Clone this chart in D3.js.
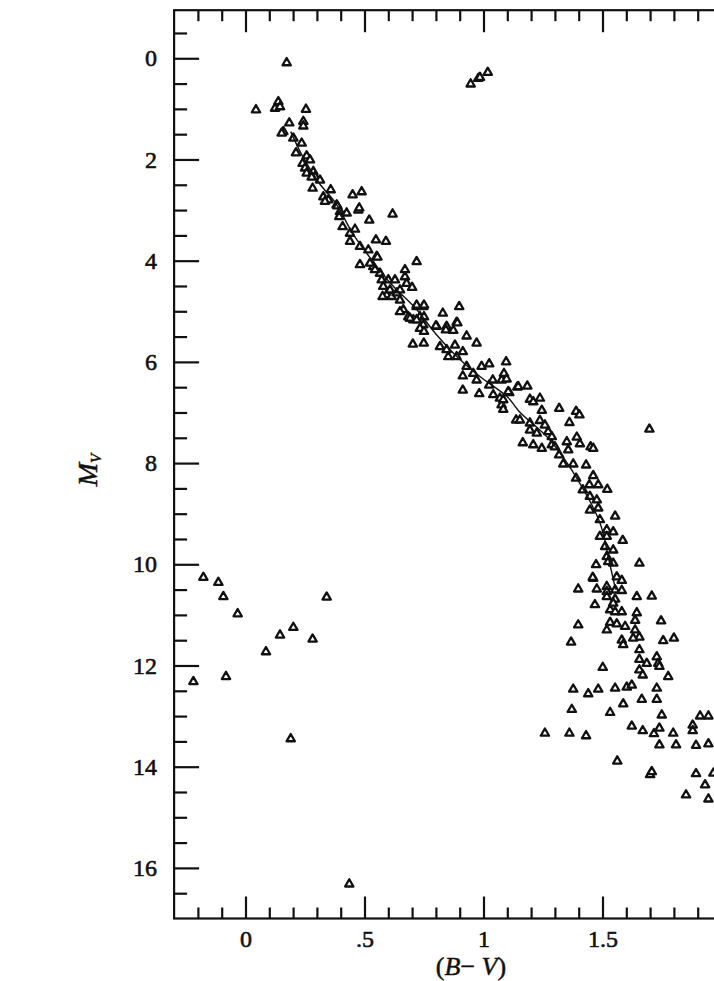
<!DOCTYPE html>
<html>
<head>
<meta charset="utf-8">
<script src="https://cdn.jsdelivr.net/npm/d3@7"></script>
<style>
  body { margin: 0; background: #fff; }
  svg { display: block; }
  .tick text { font-family: "Liberation Serif", "DejaVu Serif", serif; font-size: 24px; fill: #111; stroke: #111; stroke-width: 0.6px; }
</style>
</head>
<body>
<svg id="chart"></svg>
<script>
// colour-magnitude diagram, (B-V) vs M_V

// ticks
var xMajor = [0, 0.5, 1, 1.5];
var xTickLabels = ["0", ".5", "1", "1.5"];
var xMinor = [-0.2, -0.1, 0.1, 0.2, 0.3, 0.4, 0.6, 0.7, 0.8, 0.9, 1.1, 1.2, 1.3, 1.4, 1.6, 1.7, 1.8, 1.9];
var yMajor = [0, 2, 4, 6, 8, 10, 12, 14, 16];
var yTickLabels = ["0", "2", "4", "6", "8", "10", "12", "14", "16"];
var yMinor = [-0.5, 0.5, 1, 1.5, 2.5, 3, 3.5, 4.5, 5, 5.5, 6.5, 7, 7.5, 8.5, 9, 9.5,
              10.5, 11, 11.5, 12.5, 13, 13.5, 14.5, 15, 15.5, 16.5];

// stars [B-V, M_V]
var giants = [[0.946, 0.51], [0.978, 0.40], [0.985, 0.38], [1.018, 0.28]];

var whiteDwarfs = [[-0.177, 10.26], [-0.114, 10.36], [-0.093, 10.64], [-0.033, 10.98], [0.341, 10.65],
  [0.201, 11.25], [0.145, 11.40], [0.282, 11.48], [0.086, 11.73], [-0.082, 12.22], [-0.219, 12.32],
  [0.190, 13.45], [0.436, 16.32]];

var mainSeq = [
  [0.173, 0.09], [0.044, 1.02], [0.124, 0.99], [0.138, 0.86], [0.145, 0.96], [0.254, 1.01],
  [0.184, 1.28], [0.243, 1.25], [0.243, 1.34], [0.159, 1.45], [0.152, 1.48],
  [0.201, 1.58], [0.236, 1.68], [0.212, 1.87], [0.257, 1.93], [0.240, 2.08], [0.271, 2.01],
  [0.250, 2.17], [0.257, 2.27], [0.285, 2.24], [0.292, 2.34], [0.278, 2.35], [0.313, 2.41],
  [0.282, 2.57], [0.358, 2.60], [0.450, 2.70], [0.488, 2.64],
  [0.327, 2.74], [0.348, 2.80], [0.383, 2.90], [0.386, 2.92], [0.397, 3.03], [0.425, 3.06], [0.474, 3.00], [0.478, 2.96],
  [0.520, 3.20], [0.618, 3.08], [0.334, 2.83], [0.394, 3.13],
  [0.408, 3.33], [0.439, 3.46], [0.460, 3.38], [0.439, 3.62], [0.548, 3.59], [0.590, 3.62],
  [0.481, 3.72], [0.516, 3.79], [0.551, 3.92], [0.481, 4.08], [0.537, 4.12], [0.719, 4.02],
  [0.565, 4.25], [0.600, 4.38], [0.628, 4.38], [0.670, 4.18], [0.670, 4.32], [0.677, 4.45], [0.700, 4.53],
  [0.593, 4.68], [0.614, 4.71], [0.635, 4.64], [0.649, 4.58], [0.649, 4.78], [0.663, 4.97],
  [0.719, 4.91], [0.747, 4.91], [0.829, 5.04], [0.898, 4.91], [0.684, 5.11], [0.705, 5.17], [0.733, 5.11],
  [0.747, 5.27], [0.803, 5.30], [0.845, 5.30], [0.887, 5.22],
  [0.554, 3.93], [0.523, 4.05], [0.544, 4.18], [0.572, 4.38], [0.579, 4.51], [0.607, 4.58], [0.576, 4.71],
  [0.649, 5.01], [0.719, 4.88], [0.750, 4.88], [0.691, 5.14], [0.719, 5.17], [0.750, 5.11],
  [0.733, 5.34], [0.750, 5.40], [0.703, 5.65], [0.749, 5.63],
  [0.800, 5.29], [0.842, 5.37], [0.873, 5.38], [0.890, 5.23], [0.929, 5.49], [0.971, 5.63],
  [0.817, 5.70], [0.845, 5.76], [0.880, 5.67], [0.852, 5.90], [0.887, 5.90], [0.913, 5.80],
  [0.929, 6.09], [0.992, 6.09], [1.024, 6.04], [1.095, 6.00],
  [0.913, 6.28], [0.957, 6.23], [0.971, 6.36], [0.913, 6.56], [0.982, 6.63],
  [1.024, 6.46], [1.039, 6.36], [1.076, 6.36], [1.086, 6.23], [1.097, 6.34],
  [1.041, 6.65], [1.069, 6.72], [1.108, 6.61], [1.142, 6.50], [1.076, 6.85], [1.083, 6.94], [1.137, 7.15],
  [1.146, 6.49], [1.184, 6.48], [1.104, 6.59], [1.083, 6.75],
  [1.195, 6.74], [1.209, 6.79], [1.237, 6.72], [1.245, 6.96], [1.318, 6.92], [1.389, 6.98], [1.403, 7.05],
  [1.153, 7.15], [1.195, 7.21], [1.237, 7.16], [1.258, 7.25], [1.361, 7.20], [1.697, 7.33],
  [1.195, 7.35], [1.224, 7.41], [1.272, 7.38], [1.287, 7.48],
  [1.165, 7.60], [1.209, 7.64], [1.245, 7.71], [1.287, 7.64], [1.300, 7.68],
  [1.350, 7.58], [1.392, 7.49], [1.405, 7.62], [1.450, 7.68], [1.461, 7.71],
  [1.318, 7.84], [1.356, 7.74], [1.335, 8.02], [1.377, 8.02], [1.431, 8.04],
  [1.389, 8.30], [1.417, 8.53], [1.445, 8.43], [1.461, 8.25], [1.482, 8.43], [1.520, 8.52],
  [1.447, 8.66], [1.476, 8.73], [1.447, 8.93], [1.482, 8.89], [1.553, 9.05],
  [1.489, 9.12], [1.518, 9.32], [1.489, 9.45], [1.518, 9.45], [1.545, 9.36], [1.585, 9.53],
  [1.511, 9.65], [1.545, 9.72], [1.518, 9.85], [1.545, 9.98], [1.473, 10.01], [1.655, 9.98], [1.524, 9.95],
  [1.461, 10.28], [1.560, 10.25], [1.581, 10.32], [1.518, 10.44], [1.553, 10.51], [1.459, 10.26],
  [1.398, 10.49], [1.476, 10.49], [1.581, 10.52], [1.644, 10.64], [1.707, 10.63],
  [1.518, 10.54], [1.518, 10.64], [1.553, 10.69], [1.468, 10.80], [1.545, 10.77],
  [1.532, 10.90], [1.553, 10.94], [1.581, 10.94], [1.644, 10.96], [1.637, 11.11], [1.746, 11.12],
  [1.398, 11.20], [1.532, 11.15], [1.560, 11.18], [1.595, 11.23],
  [1.518, 11.30], [1.637, 11.30], [1.655, 11.44], [1.629, 11.46],
  [1.368, 11.54], [1.581, 11.50], [1.587, 11.59], [1.755, 11.51], [1.800, 11.46],
  [1.655, 11.69], [1.655, 11.88], [1.686, 11.96], [1.728, 11.83], [1.734, 11.96], [1.739, 12.02],
  [1.501, 12.04], [1.655, 12.09], [1.669, 12.19], [1.776, 12.22],
  [1.377, 12.47], [1.440, 12.56], [1.482, 12.47], [1.553, 12.45], [1.602, 12.43], [1.623, 12.39], [1.728, 12.45],
  [1.371, 12.87], [1.532, 12.93], [1.587, 12.76], [1.665, 12.67], [1.728, 12.67],
  [1.749, 12.98], [1.910, 13.00], [1.945, 13.00],
  [1.258, 13.34], [1.361, 13.34], [1.431, 13.39],
  [1.623, 13.20], [1.669, 13.29], [1.716, 13.35], [1.739, 13.24], [1.797, 13.34], [1.879, 13.18], [1.879, 13.29],
  [1.739, 13.57], [1.809, 13.57], [1.893, 13.58], [1.945, 13.55],
  [1.562, 13.89], [1.700, 14.16], [1.707, 14.10],
  [1.893, 14.14], [1.931, 14.36], [1.966, 14.13], [1.851, 14.56], [1.945, 14.64]
];

// mean main sequence
var ridgeBV = [0.19, 0.24, 0.31, 0.38, 0.45, 0.52, 0.61, 0.72, 0.80, 0.90, 0.985, 1.10, 1.15, 1.28, 1.405, 1.49, 1.53, 1.555];
var ridgeMV = [1.45, 1.94, 2.47, 2.87, 3.46, 3.92, 4.45, 4.97, 5.45, 5.95, 6.29, 6.69, 6.98, 7.55, 8.40, 9.19, 9.98, 10.50];

var W = 714, H = 981;
var svg = d3.select("#chart").attr("width", W).attr("height", H);

var x = d3.scaleLinear().domain([-0.3, 2.3]).range([174.1, 792.9]);
var y = d3.scaleLinear().domain([-0.95, 17]).range([10.2, 918.5]);

var plotW = x.range()[1] - x.range()[0];
var plotH = y.range()[1] - y.range()[0];

var g = svg.append("g");

// ticks, all pointing inward
function ticks(axis, transform) {
  var a = g.append("g").attr("transform", transform).call(axis);
  a.select(".domain").remove();
  a.selectAll(".tick line").attr("stroke", "#111").attr("stroke-width", 2.2);
  return a;
}

ticks(d3.axisBottom(x).tickValues(xMinor).tickSize(-11).tickFormat(""), "translate(0," + y.range()[1] + ")");
ticks(d3.axisTop(x).tickValues(xMinor).tickSize(-11).tickFormat(""), "translate(0," + y.range()[0] + ")");
ticks(d3.axisTop(x).tickValues(xMajor).tickSize(-22).tickFormat(""), "translate(0," + y.range()[0] + ")");
ticks(d3.axisBottom(x).tickValues(xMajor).tickSize(-22).tickPadding(11)
  .tickFormat(function(d, i) { return xTickLabels[i]; }), "translate(0," + y.range()[1] + ")");

ticks(d3.axisLeft(y).tickValues(yMinor).tickSize(-13).tickFormat(""), "translate(" + x.range()[0] + ",0)");
ticks(d3.axisLeft(y).tickValues(yMajor).tickSize(-25).tickPadding(17)
  .tickFormat(function(d, i) { return yTickLabels[i]; }), "translate(" + x.range()[0] + ",0)");

// frame
g.append("rect")
  .attr("x", x.range()[0]).attr("y", y.range()[0])
  .attr("width", plotW).attr("height", plotH)
  .attr("fill", "none").attr("stroke", "#111").attr("stroke-width", 2.2);

// stars
var tri = d3.symbol().type(d3.symbolTriangle).size(30);
var stars = giants.concat(whiteDwarfs, mainSeq);

g.append("g").selectAll("path")
  .data(stars)
  .enter()
  .append("path")
  .attr("d", tri)
  .attr("transform", function(d) { return "translate(" + x(d[0]) + "," + y(d[1]) + ")"; })
  .attr("fill", "#fff")
  .attr("stroke", "#111")
  .attr("stroke-width", 2.3)
  .attr("stroke-linejoin", "round");

var ridge = ridgeBV.map(function(v, i) { return [v, ridgeMV[i]]; });
g.append("path")
  .datum(ridge)
  .attr("fill", "none")
  .attr("stroke", "#111")
  .attr("stroke-width", 1.4)
  .attr("d", d3.line()
    .x(function(d) { return x(d[0]); })
    .y(function(d) { return y(d[1]); })
    .curve(d3.curveCatmullRom));

// axis titles
var xt = svg.append("text")
  .attr("x", 471).attr("y", 975)
  .attr("text-anchor", "middle")
  .attr("font-family", "Liberation Serif, DejaVu Serif, serif")
  .attr("font-size", 26)
  .attr("fill", "#111")
  .attr("stroke", "#111").attr("stroke-width", 0.5);
xt.append("tspan").text("(");
xt.append("tspan").attr("font-style", "italic").text("B");
xt.append("tspan").text("\u2212 ");
xt.append("tspan").attr("font-style", "italic").text("V");
xt.append("tspan").text(")");

var yt = svg.append("text")
  .attr("transform", "translate(97,470) rotate(-90)")
  .attr("text-anchor", "middle")
  .attr("font-family", "Liberation Serif, DejaVu Serif, serif")
  .attr("font-size", 28)
  .attr("fill", "#111")
  .attr("stroke", "#111").attr("stroke-width", 0.5);
yt.append("tspan").attr("font-style", "italic").text("M");
yt.append("tspan").attr("font-style", "italic").attr("font-size", 15).attr("dy", 4).text("V");
</script>
</body>
</html>
